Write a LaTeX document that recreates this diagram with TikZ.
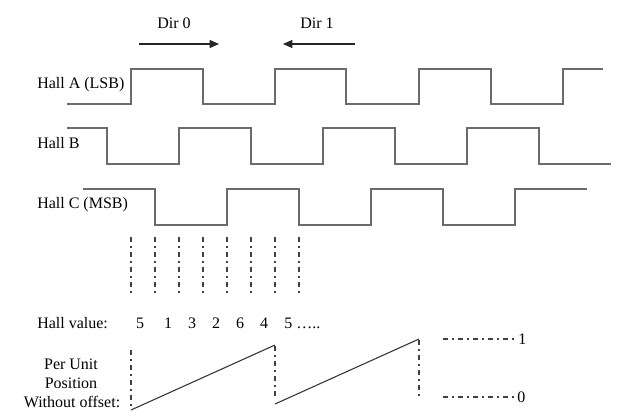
\documentclass[tikz,border=0pt]{standalone}
\usepackage{fontspec}
\setmainfont{Liberation Serif}
\usetikzlibrary{arrows.meta}
\begin{document}
\begin{tikzpicture}[x=0.75pt,y=-0.75pt,
  lbl/.style={inner sep=0pt,font=\fontsize{12}{14}\selectfont,anchor=base west},
  lblc/.style={inner sep=0pt,font=\fontsize{12}{14}\selectfont,anchor=base},
  sig/.style={draw=black!58,line width=1.4pt,line join=miter},
  dirarrow/.style={draw=black!85,line width=0.8pt,-{Triangle[length=7pt,width=6pt]}},
  dd/.style={draw=black!75,line width=0.8pt,dash pattern=on 3.75pt off 3pt on 1.5pt off 3pt},
  ramp/.style={draw=black!80,line width=0.8pt}]
\useasboundingbox (0,0) rectangle (618,419);
% direction labels
\node[lbl] (dir0) at (157,28) {Dir 0};
\node[lbl] (dir1) at (300,28) {Dir 1};
\coordinate (a0s) at (139,44); \coordinate (a0e) at (219,44);
\coordinate (a1s) at (355,44); \coordinate (a1e) at (283,44);
\draw[dirarrow] (a0s) -- (a0e);
\draw[dirarrow] (a1s) -- (a1e);
% signal labels
\node[lbl] (ha) at (37,88) {Hall A (LSB)};
\node[lbl] (hb) at (37,148) {Hall B};
\node[lbl] (hc) at (37,208) {Hall C (MSB)};
% Hall A
\draw[sig] (67,104) -- (131,104) -- (131,69) -- (203,69) -- (203,104) -- (275,104) -- (275,69)
  -- (346,69) -- (346,104) -- (419,104) -- (419,69) -- (491,69) -- (491,104) -- (563,104)
  -- (563,69) -- (603,69);
% Hall B
\draw[sig] (67,128) -- (107,128) -- (107,164) -- (179,164) -- (179,128) -- (251,128) -- (251,164)
  -- (323,164) -- (323,128) -- (395,128) -- (395,164) -- (467,164) -- (467,128) -- (539,128)
  -- (539,164) -- (611,164);
% Hall C
\draw[sig] (83,189) -- (155,189) -- (155,225) -- (227,225) -- (227,189) -- (299,189) -- (299,225)
  -- (371,225) -- (371,189) -- (443,189) -- (443,225) -- (515,225) -- (515,189) -- (587,189);
% dash-dot verticals
\foreach \x in {131,155,179,203,227,251,275,299}{
  \draw[dd] (\x,237) -- (\x,297);
}
% hall values
\node[lbl] (hv) at (37,328) {Hall value:};
\node[lblc] (v1) at (140,328) {5};
\node[lblc] (v2) at (168,328) {1};
\node[lblc] (v3) at (192,328) {3};
\node[lblc] (v4) at (216,328) {2};
\node[lblc] (v5) at (240,328) {6};
\node[lblc] (v6) at (264,328) {4};
\node[lbl] (v7) at (284,328) {5 …..};
% per unit label
\node[lblc] (pu1) at (71,369) {Per Unit};
\node[lblc] (pu2) at (71,388) {Position};
\node[lblc] (pu3) at (72,407) {Without offset:};
% sawtooth
\coordinate (r1s) at (131,410); \coordinate (r1e) at (275,345);
\coordinate (r2s) at (275,404); \coordinate (r2e) at (419,339);
\draw[ramp] (r1s) -- (r1e);
\draw[ramp] (r2s) -- (r2e);
\draw[dd] (131,350) -- (131,406);
\draw[dd] (275,346) -- (275,399);
\draw[dd] (419,340) -- (419,399);
% scale
\node[lbl] (one) at (518,344) {1};
\node[lbl] (zero) at (517,402) {0};
\coordinate (t1) at (443,339); \coordinate (t0) at (443,397);
\draw[dd] (t1) -- (one.west |- t1);
\draw[dd] (t0) -- (zero.west |- t0);
\end{tikzpicture}
\end{document}
